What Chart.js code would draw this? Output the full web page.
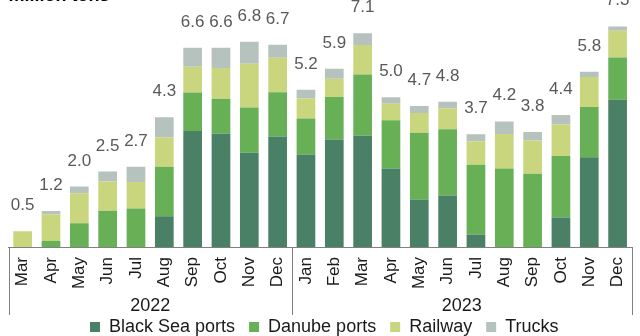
<!DOCTYPE html>
<html>
<head>
<meta charset="utf-8">
<script src="https://cdn.jsdelivr.net/npm/chart.js@4"></script>
<style>
  html, body { margin: 0; padding: 0; background: #fff; overflow: hidden; }
  #wrap { position: relative; width: 640px; height: 336px; overflow: hidden; }
  #grainChart { position: absolute; left: 0; top: -15px; }
</style>
</head>
<body>
<div id="wrap"><canvas id="grainChart" width="640" height="361"></canvas></div>
<script>
const months = ["Mar", "Apr", "May", "Jun", "Jul", "Aug", "Sep", "Oct", "Nov", "Dec",
  "Jan", "Feb", "Mar", "Apr", "May", "Jun", "Jul", "Aug", "Sep", "Oct", "Nov", "Dec"];
const years = ["2022", "2023"];
const monthsPerYear = [10, 12];

const blackSea = [0, 0, 0, 0, 0, 1.02, 3.86, 3.77, 3.14, 3.68, 3.08, 3.58, 3.7, 2.61, 1.58, 1.71, 0.42, 0, 0, 0.98, 2.99, 4.9];
const danube = [0, 0.21, 0.79, 1.21, 1.28, 1.65, 1.28, 1.16, 1.5, 1.47, 1.2, 1.41, 2.04, 1.61, 2.22, 2.21, 2.32, 2.61, 2.44, 2.05, 1.67, 1.41];
const railway = [0.52, 0.88, 1.0, 0.97, 0.88, 0.98, 0.86, 1.03, 1.46, 1.15, 0.66, 0.61, 0.98, 0.55, 0.66, 0.7, 0.78, 1.15, 1.1, 1.05, 1.0, 0.89];
const trucks = [0, 0.11, 0.22, 0.33, 0.51, 0.67, 0.63, 0.67, 0.73, 0.43, 0.29, 0.33, 0.39, 0.21, 0.23, 0.21, 0.23, 0.42, 0.29, 0.31, 0.17, 0.14];
const totals = ["0.5", "1.2", "2.0", "2.5", "2.7", "4.3", "6.6", "6.6", "6.8", "6.7", "5.2",
  "5.9", "7.1", "5.0", "4.7", "4.8", "3.7", "4.2", "3.8", "4.4", "5.8", "7.3"];

const FONT = "'Liberation Sans', Arial, sans-serif";

// totals above each stacked bar
const totalLabels = {
  id: "totalLabels",
  afterDatasetsDraw(chart) {
    const ctx = chart.ctx;
    const y = chart.scales.y;
    const meta = chart.getDatasetMeta(0);
    ctx.save();
    ctx.font = "17px " + FONT;
    ctx.fillStyle = "#595959";
    ctx.textAlign = "center";
    ctx.textBaseline = "alphabetic";
    months.forEach((m, i) => {
      const sum = blackSea[i] + danube[i] + railway[i] + trucks[i];
      ctx.fillText(totals[i], meta.data[i].x, y.getPixelForValue(sum) - 21);
    });
    ctx.restore();
  },
};

// year row under the month labels, with group separators
const yearAxis = {
  id: "yearAxis",
  afterDraw(chart) {
    const ctx = chart.ctx;
    const x = chart.scales.x;
    const step = x.width / months.length;
    const top = chart.chartArea.bottom;
    const bottom = top + 68;
    ctx.save();
    ctx.strokeStyle = "#808080";
    ctx.lineWidth = 1;
    ctx.font = "18px " + FONT;
    ctx.fillStyle = "#1a1a1a";
    ctx.textAlign = "center";
    ctx.textBaseline = "middle";
    let start = 0;
    const edges = [x.getPixelForValue(0) - step / 2];
    years.forEach((yr, k) => {
      const end = start + monthsPerYear[k] - 1;
      const left = x.getPixelForValue(start) - step / 2;
      const right = x.getPixelForValue(end) + step / 2;
      edges.push(right);
      ctx.fillText(yr, (left + right) / 2, top + 59);
      start = end + 1;
    });
    edges.forEach((ex) => {
      const px = Math.min(Math.round(ex) + 0.5, chart.width - 2.5);
      ctx.beginPath();
      ctx.moveTo(px, top);
      ctx.lineTo(px, bottom);
      ctx.stroke();
    });
    ctx.restore();
  },
};

new Chart(document.getElementById("grainChart"), {
  type: "bar",
  data: {
    labels: months,
    datasets: [
      { label: "Black Sea ports", data: blackSea, backgroundColor: "#4a8066" },
      { label: "Danube ports", data: danube, backgroundColor: "#67b055" },
      { label: "Railway", data: railway, backgroundColor: "#c9d67e" },
      { label: "Trucks", data: trucks, backgroundColor: "#b6c2bd" },
    ],
  },
  options: {
    responsive: false,
    animation: false,
    events: [],
    datasets: {
      bar: { categoryPercentage: 1, barPercentage: 0.66, borderWidth: 0 },
    },
    layout: { padding: { left: 8.5, right: 0, top: 0, bottom: 0 } },
    scales: {
      x: {
        stacked: true,
        grid: { display: false },
        border: { display: true, color: "#808080", width: 1 },
        ticks: {
          minRotation: 90,
          maxRotation: 90,
          padding: 2,
          autoSkip: false,
          color: "#1a1a1a",
          font: { family: FONT, size: 17 },
        },
        afterFit(scale) {
          scale.height = 57;
        },
      },
      y: {
        stacked: true,
        display: false,
        min: 0,
        max: 8,
      },
    },
    plugins: {
      title: {
        display: true,
        text: "million tons",
        align: "start",
        color: "#000",
        font: { family: FONT, size: 18, weight: "bold" },
        padding: { top: 0, bottom: 0 },
      },
      legend: {
        position: "bottom",
        labels: {
          boxWidth: 10,
          boxHeight: 10,
          padding: 14,
          color: "#1a1a1a",
          font: { family: FONT, size: 18 },
        },
      },
      tooltip: { enabled: false },
    },
  },
  plugins: [totalLabels, yearAxis],
});
</script>
</body>
</html>
